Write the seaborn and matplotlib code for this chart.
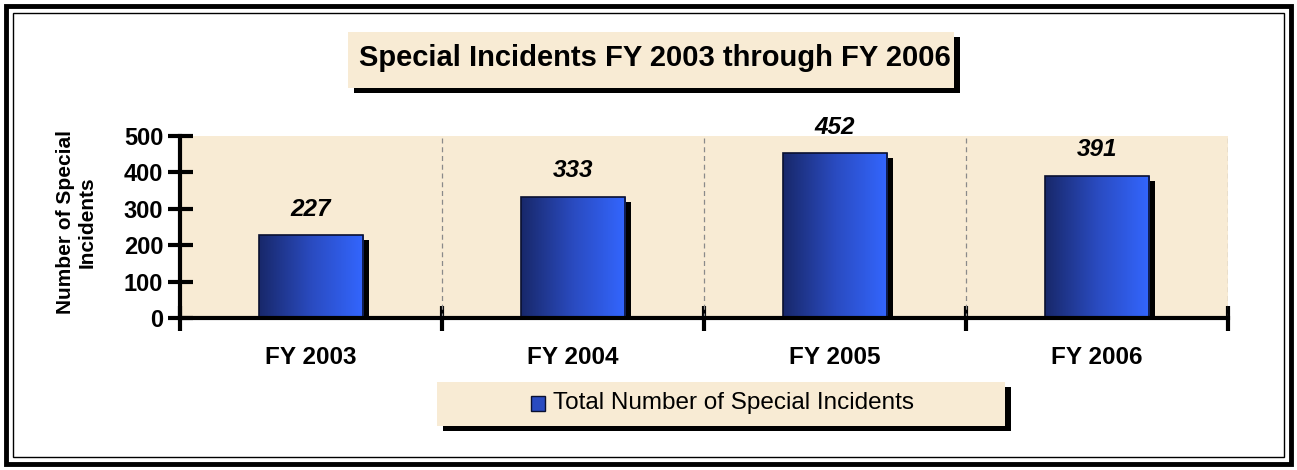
import numpy as np
import pandas as pd
import matplotlib
matplotlib.use("Agg")
import matplotlib.pyplot as plt
import matplotlib.transforms as mtransforms
from matplotlib.patches import Rectangle
from matplotlib.colors import LinearSegmentedColormap
import seaborn as sns

# data
years = ["FY 2003", "FY 2004", "FY 2005", "FY 2006"]
incidents = [227, 333, 452, 391]
y_ticks = [0, 100, 200, 300, 400, 500]
series_name = "Total Number of Special Incidents"
title = "Special Incidents FY 2003 through FY 2006"

df = pd.DataFrame({"year": years, "count": incidents})

sns.set_theme(style="white")
plt.rcParams["font.family"] = ["Liberation Sans", "DejaVu Sans"]
plt.rcParams["text.color"] = "black"
plt.rcParams["xtick.color"] = "black"
plt.rcParams["ytick.color"] = "black"

paper = "#f8ebd4"
grad = LinearSegmentedColormap.from_list("blu", ["#18286a", "#2a4bc0", "#3366ff"])

fig = plt.figure(figsize=(12.97, 4.70), dpi=100)
ax = fig.add_axes([180 / 1297, 1 - 318 / 470, 1048 / 1297, 182 / 470])
ax.set_facecolor(paper)

sns.barplot(data=df, x="year", y="count", ax=ax, width=0.4, color="#2a4bc0",
            edgecolor="#0a1030", linewidth=1.2, zorder=3)

ax.set_xlim(-0.5, 3.5)
ax.set_ylim(0, 500)

# gradient fill + drop shadow for each bar
shadow_off = mtransforms.ScaledTranslation(6 / 100, -5 / 100, fig.dpi_scale_trans)
gradient = np.linspace(0, 1, 256).reshape(1, -1)
for p, val in zip(ax.patches, incidents):
    x0, w, h = p.get_x(), p.get_width(), p.get_height()
    sh = Rectangle((x0, 0), w, h, facecolor="black", edgecolor="none",
                   transform=ax.transData + shadow_off, zorder=2)
    sh.set_clip_path(ax.patch)
    ax.add_patch(sh)
    im = ax.imshow(gradient, cmap=grad, aspect="auto", extent=(x0, x0 + w, 0, h),
                   zorder=3.5, interpolation="bicubic")
    im.set_clip_path(p)
    p.set_facecolor("none")
    p.set_zorder(4)
    ax.annotate(str(val), (x0 + w / 2, h), xytext=(0, 14), textcoords="offset points",
                ha="center", va="baseline", fontsize=17.5, fontweight="bold",
                fontstyle="italic", zorder=5, annotation_clip=False)

# dashed category separators
for xb in [0.5, 1.5, 2.5, 3.5]:
    ax.axvline(xb, color="#8a8a8a", ls=(0, (4, 3)), lw=0.9, zorder=1)

ax.set_xticks([-0.5, 0.5, 1.5, 2.5, 3.5])
ax.set_xticklabels([])
ax.set_xticks(range(len(years)), minor=True)
ax.set_xticklabels(years, minor=True)
ax.tick_params(axis="x", which="major", bottom=True, direction="inout", length=18,
               width=3, color="black")
ax.tick_params(axis="x", which="minor", bottom=True, length=0, pad=20, labelsize=17.5)
ax.set_yticks(y_ticks)
ax.tick_params(axis="y", left=True, direction="inout", length=18, width=3, color="black",
               labelsize=17, pad=3)
for lbl in ax.get_xticklabels(minor=True) + ax.get_yticklabels():
    lbl.set_fontweight("bold")

ax.set_xlabel("")
ax.set_ylabel("")
for s in ["top", "right"]:
    ax.spines[s].set_visible(False)
for s in ["left", "bottom"]:
    ax.spines[s].set_linewidth(3)
    ax.spines[s].set_color("black")
    ax.spines[s].set_zorder(6)

fig.text(76 / 1297, 1 - 222 / 470, "Number of Special\nIncidents", rotation=90,
         ha="center", va="center", fontsize=15, fontweight="bold", linespacing=1.15)

# title box with shadow
fig.patches.append(Rectangle((354 / 1297, 1 - 93 / 470), 606 / 1297, 56 / 470,
                             transform=fig.transFigure, facecolor="black", edgecolor="none"))
fig.patches.append(Rectangle((348 / 1297, 1 - 88 / 470), 606 / 1297, 56 / 470,
                             transform=fig.transFigure, facecolor=paper, edgecolor="none"))
fig.text(655 / 1297, 1 - 58 / 470, title, ha="center", va="center",
         fontsize=21, fontweight="bold")

# legend box with shadow
fig.patches.append(Rectangle((443 / 1297, 1 - 431 / 470), 568 / 1297, 44 / 470,
                             transform=fig.transFigure, facecolor="black", edgecolor="none"))
fig.patches.append(Rectangle((437 / 1297, 1 - 426 / 470), 568 / 1297, 44 / 470,
                             transform=fig.transFigure, facecolor=paper, edgecolor="none"))
fig.patches.append(Rectangle((531 / 1297, 1 - 411 / 470), 14 / 1297, 15 / 470,
                             transform=fig.transFigure, facecolor="#2a4bc0",
                             edgecolor="#0a1030", lw=1))
fig.text(553 / 1297, 1 - 403 / 470, series_name, ha="left", va="center", fontsize=17.5)

# double frame
fig.patches.append(Rectangle((6 / 1297, 6 / 470), 1285 / 1297, 458 / 470,
                             transform=fig.transFigure, facecolor="none",
                             edgecolor="black", lw=3.5))
fig.patches.append(Rectangle((13 / 1297, 13 / 470), 1271 / 1297, 444 / 470,
                             transform=fig.transFigure, facecolor="none",
                             edgecolor="black", lw=1))

fig.savefig("out.png", dpi=100, facecolor="white")
